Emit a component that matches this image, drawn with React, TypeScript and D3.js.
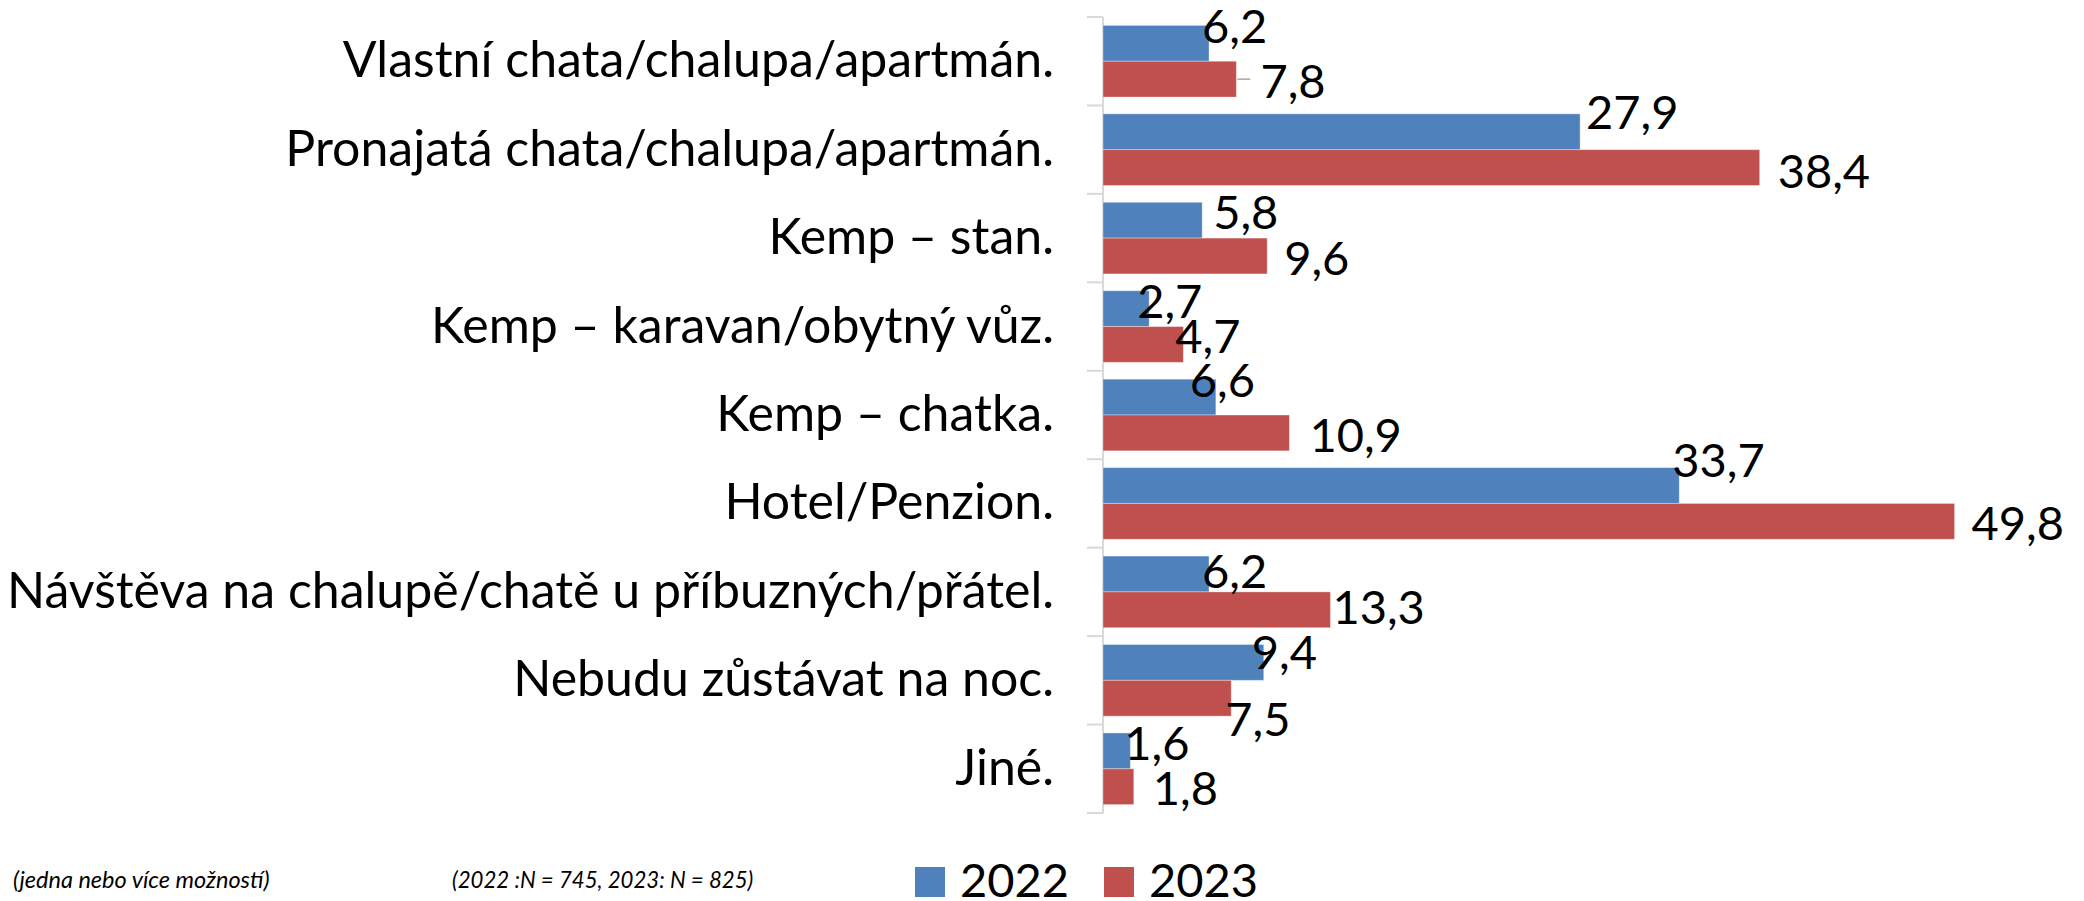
import React from "react";
import * as d3 from "d3";

const categories = [
  "Vlastní chata/chalupa/apartmán.",
  "Pronajatá chata/chalupa/apartmán.",
  "Kemp – stan.",
  "Kemp – karavan/obytný vůz.",
  "Kemp – chatka.",
  "Hotel/Penzion.",
  "Návštěva na chalupě/chatě u příbuzných/přátel.",
  "Nebudu zůstávat na noc.",
  "Jiné.",
];
const seriesNames = ["2022", "2023"];
const values2022 = [6.2, 27.9, 5.8, 2.7, 6.6, 33.7, 6.2, 9.4, 1.6];
const values2023 = [7.8, 38.4, 9.6, 4.7, 10.9, 49.8, 13.3, 7.5, 1.8];
const noteLeft = "(jedna nebo více možností)";
const noteRight = "(2022 :N = 745, 2023: N = 825)";

// label nudges (px) relative to bar end / bar center
const nudgeX2022 = [-7, 6, 11, -12, -26, -7, -7, -12, -6];
const nudgeY2022 = [-17, -20, -8, -8, -17, -26, -3, -10, -8];
const nudgeX2023 = [24, 18, 17, -8, 20, 17, 2, -6, 19];
const nudgeY2023 = [2, 3, 2, -8, 2, 2, -3, 21, 1];
const leader2023 = [true, false, false, false, false, false, false, false, false];

const COLORS = ["#4F81BD", "#C0504D"];
const FONT = "Lato, 'Open Sans', sans-serif";

export default function App() {
  const W = 2084;
  const H = 901;
  const x = d3.scaleLinear().domain([0, 50]).range([1103, 1103 + 50 * 17.1]);
  const y = d3
    .scaleBand<string>()
    .domain(categories)
    .range([17, 813])
    .paddingInner(0.19)
    .paddingOuter(0.095);
  const ySub = d3.scaleBand<string>().domain(seriesNames).range([0, y.bandwidth()]);
  const step = y.step();
  const ticks = categories.map((c) => (y(c) as number) - 0.095 * step);
  ticks.push(813);

  const series = [
    { name: "2022", values: values2022, nx: nudgeX2022, ny: nudgeY2022, leader: null as null | boolean[] },
    { name: "2023", values: values2023, nx: nudgeX2023, ny: nudgeY2023, leader: leader2023 },
  ];
  const fs = 47;
  const catFs = 50;

  return (
    <div style={{ position: "absolute", left: 0, top: 0 }}>
      <svg width={W} height={H} style={{ display: "block", background: "#fff" }}>
        {/* axis */}
        <line x1={x(0)} x2={x(0)} y1={17} y2={813} stroke="#d9d9d9" strokeWidth={2} />
        {ticks.map((t, i) => (
          <line key={"t" + i} x1={x(0) - 16} x2={x(0)} y1={t} y2={t} stroke="#d9d9d9" strokeWidth={2} />
        ))}
        {/* category labels */}
        {categories.map((c) => (
          <text
            key={c}
            x={1054}
            y={(y(c) as number) + y.bandwidth() / 2 + 16}
            textAnchor="end"
            fontFamily={FONT}
            fontSize={catFs}
            fill="#000"
          >
            {c}
          </text>
        ))}
        {/* bars */}
        {series.map((s, si) =>
          categories.map((c, i) => {
            const by = (y(c) as number) + (ySub(s.name) as number);
            return (
              <rect
                key={s.name + c}
                x={x(0)}
                y={by}
                width={x(s.values[i]) - x(0)}
                height={ySub.bandwidth()}
                fill={COLORS[si]}
                stroke="#ffffff"
                strokeOpacity={0.35}
                strokeWidth={1}
              />
            );
          })
        )}
        {/* leaders */}
        {series.map((s) =>
          categories.map((c, i) => {
            if (!s.leader || !s.leader[i]) return null;
            const cy = (y(c) as number) + (ySub(s.name) as number) + ySub.bandwidth() / 2;
            return (
              <line
                key={"l" + s.name + c}
                x1={x(s.values[i]) + 1}
                x2={x(s.values[i]) + s.nx[i] - 10}
                y1={cy}
                y2={cy}
                stroke="#a6a6a6"
                strokeWidth={1.5}
              />
            );
          })
        )}
        {/* data labels */}
        {series.map((s) =>
          categories.map((c, i) => {
            const cy = (y(c) as number) + (ySub(s.name) as number) + ySub.bandwidth() / 2;
            return (
              <text
                key={"d" + s.name + c}
                x={x(s.values[i]) + s.nx[i]}
                y={cy + s.ny[i] + 17}
                fontFamily={FONT}
                fontSize={fs}
                fill="#000"
              >
                {d3.format(".1f")(s.values[i]).replace(".", ",")}
              </text>
            );
          })
        )}
        {/* notes */}
        <text x={13} y={888} fontFamily={FONT} fontStyle="italic" fontSize={23.5} fill="#000">
          {noteLeft}
        </text>
        <text x={452} y={888} fontFamily={FONT} fontStyle="italic" fontSize={22.2} fill="#000">
          {noteRight}
        </text>
        {/* legend */}
        {seriesNames.map((n, i) => (
          <g key={"lg" + n} transform={`translate(${915 + i * 189},0)`}>
            <rect x={0} y={867} width={30} height={30} fill={COLORS[i]} />
            <text x={45} y={897} fontFamily={FONT} fontSize={fs} fill="#000">
              {n}
            </text>
          </g>
        ))}
      </svg>
    </div>
  );
}
